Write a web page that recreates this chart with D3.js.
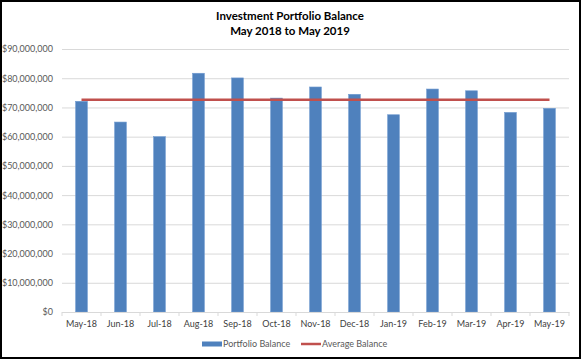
<!DOCTYPE html>
<html>
<head>
<meta charset="utf-8">
<script src="https://cdn.jsdelivr.net/npm/d3@7"></script>
<style>
  body { margin: 0; background: #fff; }
  svg text { font-family: Lato, "Open Sans", sans-serif; }
</style>
</head>
<body>
<div id="chart"></div>
<script>
// values
const months = ["May-18", "Jun-18", "Jul-18", "Aug-18", "Sep-18", "Oct-18", "Nov-18",
                "Dec-18", "Jan-19", "Feb-19", "Mar-19", "Apr-19", "May-19"];
const portfolioBalance = [72100000, 65000000, 60000000, 81700000, 80100000, 73200000, 77000000,
                          74500000, 67500000, 76300000, 75700000, 68300000, 69700000];
const averageBalance = [72600000];
const yTicks = [0, 10000000, 20000000, 30000000, 40000000, 50000000, 60000000, 70000000, 80000000, 90000000];
const titleLines = ["Investment Portfolio Balance", "May 2018 to May 2019"];
const legendLabels = ["Portfolio Balance", "Average Balance"];

const width = 581, height = 360;
const margin = { top: 49, right: 12, bottom: 48, left: 62 };
const blue = "#4f81bd", red = "#c0504d";

const svg = d3.select("#chart").append("svg")
  .attr("width", width)
  .attr("height", height);

// outer frame
svg.append("rect")
  .attr("x", 1).attr("y", 1)
  .attr("width", width - 2).attr("height", height - 3)
  .attr("fill", "#fff")
  .attr("stroke", "#000")
  .attr("stroke-width", 2);

const x = d3.scaleBand()
  .domain(months)
  .range([margin.left, width - margin.right])
  .paddingInner(0.7)
  .paddingOuter(0.35);

const y = d3.scaleLinear()
  .domain([0, 90000000])
  .range([height - margin.bottom, margin.top]);

// title
svg.append("text")
  .attr("x", 290).attr("y", 20)
  .attr("text-anchor", "middle")
  .attr("font-size", 11.5)
  .attr("font-weight", "bold")
  .attr("fill", "#000")
  .selectAll("tspan")
  .data(titleLines)
  .enter().append("tspan")
  .attr("x", 290)
  .attr("dy", (d, i) => i ? 15 : 0)
  .text(d => d);

// gridlines + y labels
const yAxis = svg.append("g")
  .attr("transform", "translate(" + margin.left + ",0)")
  .call(d3.axisLeft(y)
    .tickValues(yTicks)
    .tickSize(-(width - margin.left - margin.right))
    .tickPadding(9)
    .tickFormat(d => "$" + d3.format(",")(d)));
yAxis.select(".domain").remove();
yAxis.selectAll(".tick line").attr("stroke", "#d9d9d9");
yAxis.selectAll(".tick text")
  .attr("fill", "#595959")
  .attr("font-size", 9);

// bars
svg.append("g").selectAll("rect")
  .data(portfolioBalance)
  .enter().append("rect")
  .attr("x", (d, i) => x(months[i]))
  .attr("y", d => y(d))
  .attr("width", x.bandwidth())
  .attr("height", d => y(0) - y(d))
  .attr("fill", blue)
  .attr("stroke", "#6f9ad0")
  .attr("stroke-width", 0.6);

// x axis
const xAxis = svg.append("g")
  .attr("transform", "translate(0," + y(0) + ")")
  .call(d3.axisBottom(x).tickSize(0).tickPadding(9));
xAxis.select(".domain").attr("stroke", "#d9d9d9");
xAxis.selectAll(".tick text")
  .attr("fill", "#404040")
  .attr("font-size", 9);

// category separators
const half = x.step() * x.paddingInner() / 2;
svg.append("g").selectAll("line")
  .data(months.concat(["end"]))
  .enter().append("line")
  .attr("x1", (d, i) => i < months.length ? x(d) - half : width - margin.right)
  .attr("x2", (d, i) => i < months.length ? x(d) - half : width - margin.right)
  .attr("y1", y(0))
  .attr("y2", y(0) + 4)
  .attr("stroke", "#d9d9d9");

// average line
const avgLine = d3.line()
  .x(d => x(d) + x.bandwidth() / 2)
  .y(() => y(averageBalance[0]));
svg.append("path")
  .datum([months[0], months[months.length - 1]])
  .attr("d", avgLine)
  .attr("fill", "none")
  .attr("stroke", red)
  .attr("stroke-width", 2.5);

// legend
const legend = svg.append("g").attr("transform", "translate(0,344)");
legend.append("rect")
  .attr("x", 202).attr("y", -2.5)
  .attr("width", 20).attr("height", 5)
  .attr("fill", blue);
legend.append("text")
  .attr("x", 223).attr("y", 3)
  .attr("font-size", 9).attr("fill", "#595959")
  .text(legendLabels[0]);
legend.append("line")
  .attr("x1", 301).attr("x2", 321)
  .attr("y1", 0).attr("y2", 0)
  .attr("stroke", red).attr("stroke-width", 2.5);
legend.append("text")
  .attr("x", 322).attr("y", 3)
  .attr("font-size", 9).attr("fill", "#595959")
  .text(legendLabels[1]);
</script>
</body>
</html>
